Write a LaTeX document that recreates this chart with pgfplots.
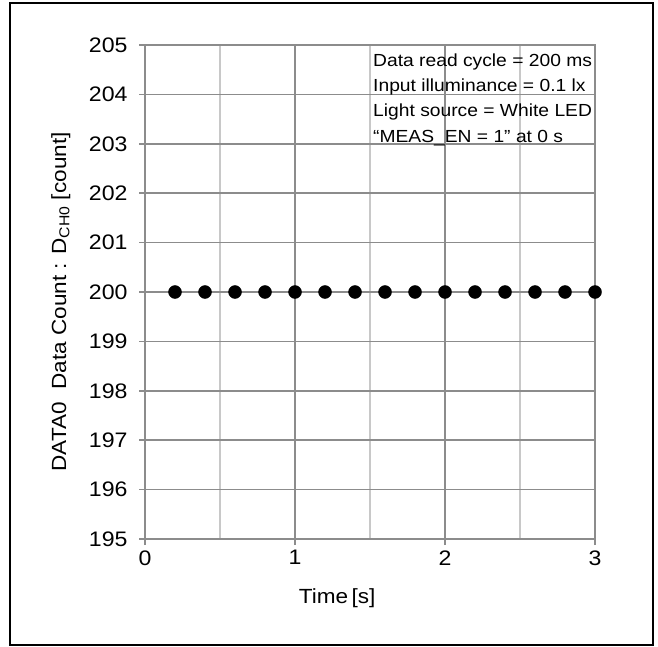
\documentclass[border=0pt]{standalone}
\usepackage{fontspec}
\setmainfont{Liberation Sans}[FakeStretch=1.1]
\usepackage{pgfplots}
\pgfplotsset{compat=1.18}
\definecolor{majgrid}{RGB}{140,140,140}
\definecolor{mingrid}{RGB}{200,200,200}
\begin{document}
\begin{tikzpicture}[x=1pt,y=1pt]
\useasboundingbox (0,0) rectangle (658,646);
\fill[white] (0,0) rectangle (658,646);
\draw[line width=1.5pt] (10,1) rectangle (653,643);
\begin{axis}[
  at={(145pt,107pt)}, anchor=south west,
  scale only axis, width=450pt, height=494pt,
  xmin=0, xmax=3, ymin=195, ymax=205,
  xtick={0,1,2,3}, minor xtick={0.5,1.5,2.5},
  ytick={195,196,...,205},
  grid=both,
  major grid style={color=majgrid, line width=1.5pt},
  minor grid style={color=mingrid, line width=1.5pt},
  axis line style={color=majgrid, line width=1.5pt},
  tick style={color=majgrid, line width=1.5pt},
  major tick length=6pt, minor tick length=0pt,
  tick align=outside, xtick pos=bottom, ytick pos=left,
  /pgf/number format/assume math mode=true,
  tick label style={font=\fontsize{21}{21}\selectfont},
  yticklabel style={xshift=-8pt},
  xticklabel style={yshift=-2pt},
  xlabel={Time\,[s]},
  ylabel={DATA0\ \ Data Count : D\textsubscript{CH0} [count]},
  label style={font=\fontsize{20.5}{20.5}\selectfont},
  xlabel style={at={(axis description cs:0.427,-0.119)}, anchor=center},
  ylabel style={at={(axis description cs:-0.187,0.48)}, anchor=center, rotate=0},
  clip=false,
]
\addplot[only marks, mark=*, mark size=6.5pt, black] coordinates {
(0.2,200) (0.4,200) (0.6,200) (0.8,200) (1.0,200) (1.2,200) (1.4,200) (1.6,200)
(1.8,200) (2.0,200) (2.2,200) (2.4,200) (2.6,200) (2.8,200) (3.0,200)
};
\begin{scope}[every node/.style={anchor=base west, inner sep=0pt, font=\fontsize{17.5}{17.5}\selectfont}]
\node at (axis cs:1.52,204.555) {Data read cycle = 200 ms};
\node at (axis cs:1.52,204.049) {Input illuminance = 0.1 lx};
\node at (axis cs:1.52,203.543) {Light source = White LED};
\node at (axis cs:1.52,203.036) {“MEAS\_EN = 1” at 0 s};
\end{scope}
\end{axis}
\end{tikzpicture}
\end{document}
